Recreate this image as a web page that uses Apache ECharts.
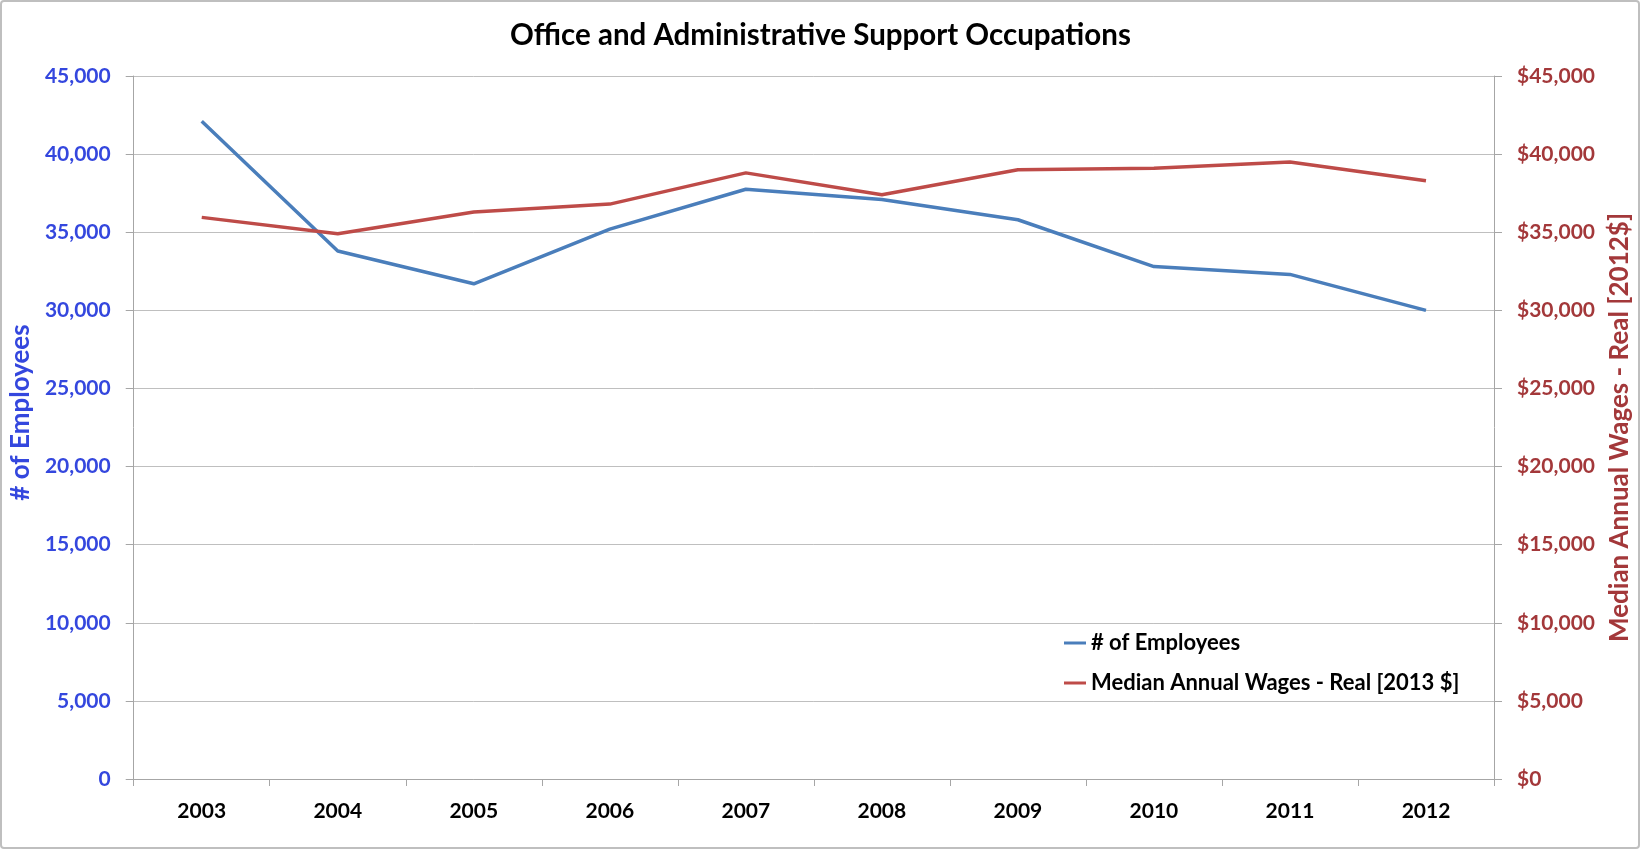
<!DOCTYPE html>
<html>
<head>
<meta charset="utf-8">
<script src="https://cdn.jsdelivr.net/npm/echarts@6/dist/echarts.min.js"></script>
<style>
html,body{margin:0;padding:0;background:#fff;}
#chart{width:1641px;height:850px;}
</style>
</head>
<body>
<div id="chart"></div>
<script>
var titleText = 'Office and Administrative Support Occupations';
var years = ['2003','2004','2005','2006','2007','2008','2009','2010','2011','2012'];
var employees = [42100, 33800, 31700, 35200, 37750, 37100, 35800, 32800, 32300, 30000];
var wages = [35950, 34900, 36300, 36800, 38800, 37400, 39000, 39100, 39500, 38300];
var employeesName = '# of Employees';
var wagesName = 'Median Annual Wages - Real [2013 $]';
var leftAxisName = '# of Employees';
var rightAxisName = 'Median Annual Wages - Real [2012$]';

var FONT = 'Lato';
var BLUE_TXT = '#3447DE';
var RED_TXT = '#A3383A';
var chart = echarts.init(document.getElementById('chart'));
chart.setOption({
  backgroundColor: '#fff',
  animation: false,
  textStyle: {fontFamily: FONT},
  graphic: [{
    type: 'rect', silent: true,
    shape: {x: 1, y: 1, width: 1638, height: 847, r: 3},
    style: {fill: 'none', stroke: '#BFBFBF', lineWidth: 2}
  }],
  title: {
    text: titleText, left: 'center', top: 15,
    textStyle: {fontFamily: FONT, fontSize: 29.5, fontWeight: 'bold', color: '#000'}
  },
  legend: {
    orient: 'vertical', left: 1059, top: 627,
    icon: 'rect', itemWidth: 22, itemHeight: 3, itemGap: 18,
    textStyle: {fontFamily: FONT, fontSize: 22, fontWeight: 'bold', color: '#000', lineHeight: 22},
    data: [employeesName, wagesName]
  },
  grid: {left: 128, right: 142, top: 76, bottom: 71},
  xAxis: {
    type: 'category', data: years, boundaryGap: true,
    axisLine: {show: true, lineStyle: {color: '#A6A6A6', width: 1}},
    axisTick: {show: true, length: 7, lineStyle: {color: '#A6A6A6'}},
    axisLabel: {margin: 22, fontFamily: FONT, fontSize: 21, fontWeight: 'bold', color: '#000'}
  },
  yAxis: [{
    type: 'value', min: 0, max: 45000, interval: 5000, position: 'left',
    name: leftAxisName, nameLocation: 'middle', nameGap: 91,
    nameTextStyle: {fontFamily: FONT, fontSize: 26, fontWeight: 'bold', color: BLUE_TXT, padding: [0, 0, 0, 30]},
    axisLine: {show: true, lineStyle: {color: '#A6A6A6', width: 1}},
    axisTick: {show: true, length: 8, lineStyle: {color: '#A6A6A6'}},
    splitLine: {show: true, lineStyle: {color: '#BFBFBF', width: 1}},
    axisLabel: {margin: 23, fontFamily: FONT, fontSize: 21, fontWeight: 'bold', color: BLUE_TXT,
      formatter: function (v) { return v.toLocaleString('en-US'); }}
  }, {
    type: 'value', min: 0, max: 45000, interval: 5000, position: 'right',
    name: rightAxisName, nameLocation: 'middle', nameGap: 113,
    nameTextStyle: {fontFamily: FONT, fontSize: 26, fontWeight: 'bold', color: RED_TXT},
    axisLine: {show: true, lineStyle: {color: '#A6A6A6', width: 1}},
    axisTick: {show: true, length: 8, lineStyle: {color: '#A6A6A6'}},
    splitLine: {show: false},
    axisLabel: {margin: 23, fontFamily: FONT, fontSize: 21, fontWeight: 'bold', color: RED_TXT,
      formatter: function (v) { return '$' + v.toLocaleString('en-US'); }}
  }],
  series: [{
    name: employeesName, type: 'line', yAxisIndex: 0, data: employees,
    symbol: 'none', lineStyle: {width: 3.5, color: '#4A7EBB'}, itemStyle: {color: '#4A7EBB'}
  }, {
    name: wagesName, type: 'line', yAxisIndex: 1, data: wages,
    symbol: 'none', lineStyle: {width: 3.5, color: '#BE4B48'}, itemStyle: {color: '#BE4B48'}
  }]
});
</script>
</body>
</html>
